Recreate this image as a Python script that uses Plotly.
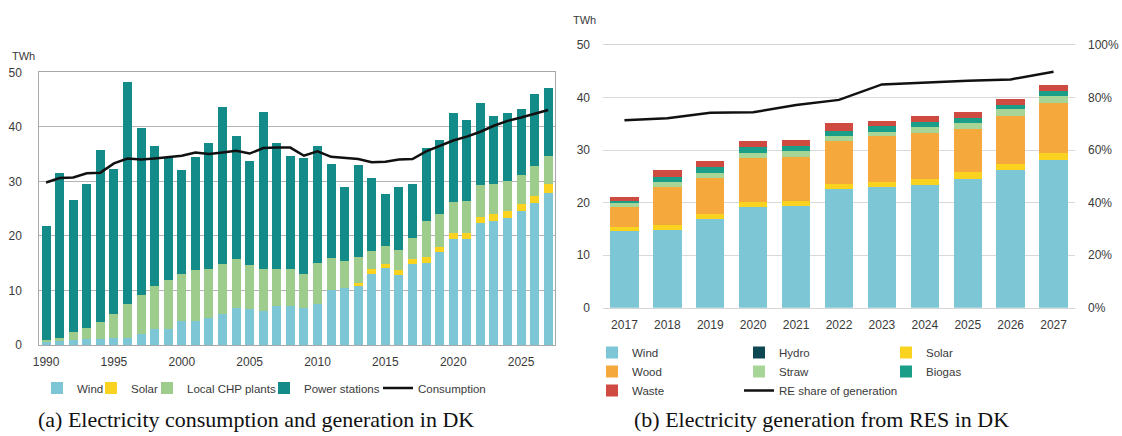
import plotly.graph_objects as go

W, H = 1122, 436

# ---- (a) Electricity consumption and generation in DK, TWh ----
years_a = list(range(1990, 2028))
wind_a = [0.6, 0.7, 0.9, 1.1, 1.1, 1.2, 1.2, 2.0, 2.9, 3.0, 4.4, 4.4, 4.9, 5.6, 6.7, 6.6,
          6.2, 7.2, 7.2, 6.7, 7.6, 10.0, 10.4, 10.8, 13.1, 14.1, 12.8, 14.8, 15.0, 17.05,
          19.4, 19.4, 22.3, 22.7, 23.3, 24.5, 26.0, 27.9]
solar_a = [0, 0, 0, 0, 0, 0, 0, 0, 0, 0, 0, 0, 0, 0, 0, 0,
           0, 0, 0, 0, 0, 0, 0, 0.6, 0.8, 0.75, 0.95, 0.9, 1.1, 0.95,
           1.1, 1.2, 1.2, 1.3, 1.3, 1.4, 1.4, 1.6]
chp_a = [0.4, 0.6, 1.4, 2.0, 3.1, 4.4, 6.3, 7.2, 8.0, 8.9, 8.7, 9.35, 9.0, 9.2, 9.1, 8.1,
         7.7, 6.7, 6.7, 6.3, 7.4, 5.9, 5.0, 4.7, 3.4, 3.35, 3.65, 4.0, 6.6, 6.1,
         5.7, 5.8, 5.8, 5.5, 5.4, 5.2, 5.4, 5.2]
power_a = [20.9, 30.3, 24.3, 26.5, 31.6, 26.6, 40.8, 30.6, 25.5, 22.3, 18.9, 20.75, 23.2, 28.9, 22.5, 19.0,
           28.9, 23.1, 20.8, 21.2, 21.5, 17.3, 13.6, 16.9, 13.4, 9.5, 11.5, 9.8, 13.5, 13.4,
           16.3, 14.9, 15.0, 12.5, 12.6, 12.1, 13.2, 12.5]
consumption_a = [29.8, 30.6, 30.7, 31.5, 31.6, 33.3, 34.2, 34.0, 34.2, 34.5, 34.7, 35.3, 35.0, 35.3, 35.6, 35.1,
                 36.1, 36.2, 36.2, 34.7, 35.5, 34.5, 34.3, 34.1, 33.5, 33.6, 34.0, 34.1, 35.5, 36.5,
                 37.5, 38.2, 39.1, 40.2, 41.1, 41.7, 42.4, 43.1]
ticks_a = [1990, 1995, 2000, 2005, 2010, 2015, 2020, 2025]

# ---- (b) Electricity generation from RES in DK, TWh ----
years_b = list(range(2017, 2028))
wind_b = [14.6, 14.8, 16.8, 19.2, 19.4, 22.5, 22.9, 23.4, 24.5, 26.2, 28.1]
hydro_b = [0, 0, 0, 0, 0, 0, 0, 0, 0, 0, 0]
solar_b = [0.75, 0.9, 1.0, 1.0, 1.0, 1.0, 1.0, 1.1, 1.3, 1.1, 1.3]
wood_b = [3.85, 7.3, 6.9, 8.2, 8.2, 8.3, 8.8, 8.7, 8.3, 9.2, 9.6]
straw_b = [0.7, 1.0, 1.0, 1.1, 1.2, 0.9, 0.7, 1.2, 1.1, 1.3, 1.3]
biogas_b = [0.4, 0.9, 1.1, 1.0, 1.0, 1.0, 1.1, 0.9, 1.0, 0.8, 1.0]
waste_b = [0.7, 1.3, 1.2, 1.2, 1.2, 1.4, 1.1, 1.2, 1.1, 1.2, 1.1]
re_share_b = [0.714, 0.721, 0.742, 0.744, 0.772, 0.791, 0.850, 0.858, 0.864, 0.869, 0.898]

C_WIND = "#7DC6D6"
C_SOLAR = "#FAD220"
C_CHP = "#9DCC8C"
C_POWER = "#138B89"
C_HYDRO = "#0C4752"
C_WOOD = "#F5A83C"
C_STRAW = "#A7D597"
C_BIOGAS = "#1B9E88"
C_WASTE = "#CF4A40"

fig = go.Figure()

# left panel: stacked generation plus consumption line, one legend box per entry
left_bars = [("Wind", wind_a, C_WIND, "legend"), ("Solar", solar_a, C_SOLAR, "legend5"),
             ("Local CHP plants", chp_a, C_CHP, "legend6"),
             ("Power stations", power_a, C_POWER, "legend7")]
for name, vals, col, lg in left_bars:
    fig.add_trace(go.Bar(x=years_a, y=vals, name=name, marker=dict(color=col, line_width=0),
                         xaxis="x", yaxis="y", legend=lg))
fig.add_trace(go.Scatter(x=years_a, y=consumption_a, name="Consumption", mode="lines",
                         line=dict(color="#111111", width=2.5), xaxis="x", yaxis="y",
                         legend="legend8"))

# right panel: renewable generation by source, with RE share on secondary axis
right_series = [("Wind", wind_b, C_WIND, "legend2"), ("Hydro", hydro_b, C_HYDRO, "legend3"),
                ("Solar", solar_b, C_SOLAR, "legend4"), ("Wood", wood_b, C_WOOD, "legend2"),
                ("Straw", straw_b, C_STRAW, "legend3"), ("Biogas", biogas_b, C_BIOGAS, "legend4"),
                ("Waste", waste_b, C_WASTE, "legend2")]
for name, vals, col, lg in right_series:
    fig.add_trace(go.Bar(x=years_b, y=vals, name=name, marker=dict(color=col, line_width=0),
                         xaxis="x2", yaxis="y2", legend=lg))
fig.add_trace(go.Scatter(x=years_b, y=re_share_b, name="RE share of generation", mode="lines",
                         line=dict(color="#111111", width=2.5), xaxis="x2", yaxis="y3",
                         legend="legend3"))

FONT = "Liberation Sans"
tick_font = dict(family=FONT, size=12, color="#3A3A3A")
leg_font = dict(family=FONT, size=11.5, color="#3A3A3A")


def px_x(px):
    return px / W


def px_y(py):
    return (H - py) / H


def legend_box(text_left_px, y_px, anchor="middle"):
    return dict(x=px_x(text_left_px - 40), y=px_y(y_px), xanchor="left",
                yanchor=anchor, font=leg_font, traceorder="normal", tracegroupgap=0,
                bgcolor="rgba(0,0,0,0)", borderwidth=0)


fig.update_layout(
    width=W, height=H,
    margin=dict(l=0, r=0, t=0, b=0, autoexpand=False),
    paper_bgcolor="white", plot_bgcolor="white",
    barmode="stack", bargap=0.34,
    font=dict(family=FONT, size=11, color="#3A3A3A"),
    showlegend=True,
    xaxis=dict(domain=[px_x(39.3), px_x(555)], anchor="y", range=[1989.5, 2027.5],
               tickvals=ticks_a, showgrid=False, showline=True, mirror=True,
               linecolor="#A8A8A8", linewidth=1, ticks="", tickfont=tick_font,
               ticklabelstandoff=6, zeroline=False, automargin=False),
    yaxis=dict(domain=[px_y(345), px_y(72.3)], anchor="x", range=[0, 50], dtick=10,
               showgrid=True, gridcolor="#B4B4B4", showline=True, mirror=True,
               linecolor="#A8A8A8", linewidth=1, ticks="", tickfont=tick_font,
               zeroline=False, ticklabelstandoff=14, automargin=False),
    xaxis2=dict(domain=[px_x(603), px_x(1075)], anchor="y2", range=[2016.5, 2027.5], dtick=1,
                showgrid=False, showline=True, mirror=True, linecolor="#D6D6D6",
                linewidth=1, ticks="", tickfont=tick_font, ticklabelstandoff=6,
                zeroline=False, automargin=False),
    yaxis2=dict(domain=[px_y(307.7), px_y(45)], anchor="x2", range=[0, 50], dtick=10,
                showgrid=True, gridcolor="#D9D9D9", showline=False, ticks="",
                tickfont=tick_font, zeroline=False, ticklabelstandoff=12, automargin=False),
    yaxis3=dict(overlaying="y2", anchor="x2", side="right", range=[0, 1], dtick=0.2,
                tickformat=".0%", showgrid=False, showline=False, ticks="",
                tickfont=tick_font, zeroline=False, ticklabelstandoff=12, automargin=False),
    legend=legend_box(77, 388),
    legend5=legend_box(131, 388),
    legend6=legend_box(187, 388),
    legend7=legend_box(304, 388),
    legend8=legend_box(418, 388),
    legend2=legend_box(632, 338, "top"),
    legend3=legend_box(779, 338, "top"),
    legend4=legend_box(926, 338, "top"),
    annotations=[
        dict(text="TWh", x=px_x(10), y=px_y(56), xref="paper", yref="paper", showarrow=False,
             xanchor="left", yanchor="middle", font=dict(family=FONT, size=11, color="#3A3A3A")),
        dict(text="TWh", x=px_x(571), y=px_y(20), xref="paper", yref="paper", showarrow=False,
             xanchor="left", yanchor="middle", font=dict(family=FONT, size=11, color="#3A3A3A")),
        dict(text="(a) Electricity consumption and generation in DK", x=px_x(256), y=px_y(419),
             xref="paper", yref="paper", showarrow=False, xanchor="center", yanchor="middle",
             font=dict(family="Liberation Serif", size=22, color="#111111")),
        dict(text="(b) Electricity generation from RES in DK", x=px_x(821), y=px_y(419),
             xref="paper", yref="paper", showarrow=False, xanchor="center", yanchor="middle",
             font=dict(family="Liberation Serif", size=22, color="#111111")),
    ],
)

fig.write_html("out.html")
